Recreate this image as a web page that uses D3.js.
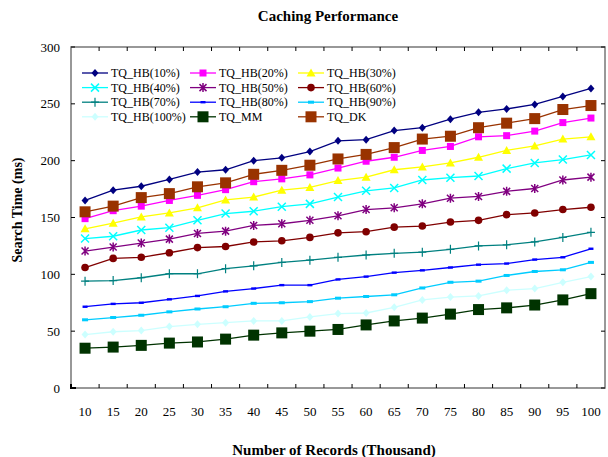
<!DOCTYPE html>
<html>
<head>
<meta charset="utf-8" />
<title>Caching Performance</title>
<script src="https://cdn.jsdelivr.net/npm/d3@7"></script>
<style>
html, body { margin: 0; background: #fff; }
svg { display: block; }
text { font-family: "Liberation Serif", "Times New Roman", serif; fill: #000; }
</style>
</head>
<body>
<div id="chart"></div>
<script>
// categories (thousand records)
var records = [10, 15, 20, 25, 30, 35, 40, 45, 50, 55, 60, 65, 70, 75, 80, 85, 90, 95, 100];
var yTicks = [0, 50, 100, 150, 200, 250, 300];

// search time (ms) per series
var hb10  = [165, 174, 177.5, 183.5, 190, 192, 200, 202.5, 208, 217.5, 218.5, 226.5, 229, 236.5, 242.5, 245.5, 249.5, 256.5, 263.5];
var hb20  = [149, 156, 160, 165, 169.5, 174.5, 181.5, 184, 187.5, 193.5, 199.5, 203, 209, 212.5, 221, 222, 226, 233.5, 237.5];
var hb30  = [140, 145, 150.5, 154, 158.5, 165.5, 168, 174, 176.5, 182.5, 185.5, 192, 194.5, 198, 203, 209, 213, 219, 221];
var hb40  = [131.5, 133.5, 139, 141, 147.5, 153.5, 155.5, 159.5, 162, 168, 173.5, 176, 183, 185, 186.5, 193, 198, 201, 205];
var hb50  = [120.5, 124, 127.5, 131, 136, 138, 143, 144.5, 147.5, 151.5, 157, 158.5, 162, 167, 168.5, 173, 175.5, 183, 185.5];
var hb60  = [106, 114, 115, 119, 123.5, 124.5, 128.5, 129.5, 132.5, 136.5, 137.5, 141.5, 142.5, 146, 147.5, 152.5, 154, 157, 159];
var hb70  = [94, 94.5, 97, 100.5, 100.5, 105, 107.5, 110.5, 112.5, 115, 117, 118.5, 119.5, 122, 125, 126, 128.5, 132.5, 137];
var hb80  = [71.5, 74, 75, 78, 81, 85, 87.5, 90.5, 90.5, 95.5, 98, 101.5, 103.5, 106, 108.5, 109.5, 113, 115, 122.5];
var hb90  = [60, 62, 64, 67, 69.5, 71.5, 74.5, 75, 76, 79, 80.5, 82, 88, 93, 94, 99, 102.5, 104, 110.5];
var hb100 = [47, 49.5, 50.5, 54, 56, 57.5, 59, 59, 62.5, 65.5, 66, 71, 77.5, 80, 81, 86, 87.5, 93, 98];
var mm    = [35, 36, 37.5, 39.5, 40.5, 43, 46.5, 48.5, 50, 51.5, 55.5, 59, 61.5, 65, 69, 70.5, 73, 77.5, 83];
var dk    = [155, 160, 167.5, 171, 177, 180.5, 188, 191.5, 196, 201.5, 205.5, 211.5, 219, 221.5, 229, 233, 237, 245, 248.5];

var seriesNames = ["TQ_HB(10%)", "TQ_HB(20%)", "TQ_HB(30%)", "TQ_HB(40%)", "TQ_HB(50%)", "TQ_HB(60%)",
                   "TQ_HB(70%)", "TQ_HB(80%)", "TQ_HB(90%)", "TQ_HB(100%)", "TQ_MM", "TQ_DK"];
var seriesValues = [hb10, hb20, hb30, hb40, hb50, hb60, hb70, hb80, hb90, hb100, mm, dk];
var seriesColors = ["#000080", "#ff00ff", "#ffff00", "#00ffff", "#800080", "#800000",
                    "#008080", "#0000ff", "#00ccff", "#ccffff", "#003300", "#993300"];
var seriesMarks = ["diamond", "square", "triangle", "cross", "star", "circle",
                   "plus", "dash", "dash2", "diamond", "bigsquare", "bigsquare"];

(function() {
var width = 608, height = 457;
var pLeft = 71, pRight = 605, pTop = 47, pBottom = 388;

var svg = d3.select("#chart").append("svg")
  .attr("width", width)
  .attr("height", height);

var x = d3.scaleBand().domain(records).range([pLeft, pRight]);
var y = d3.scaleLinear().domain([0, 300]).range([pBottom, pTop]);

function cx(i) { return x(records[i]) + x.bandwidth() / 2; }

// frame with inward ticks
var frame = svg.append("g").attr("stroke", "#777").attr("stroke-width", 1.5).attr("fill", "none");
frame.append("rect").attr("x", pLeft).attr("y", pTop).attr("width", pRight - pLeft).attr("height", pBottom - pTop);
var bounds = records.slice(1).map(function(d) { return x(d); });
bounds.forEach(function(b) {
  frame.append("line").attr("x1", b).attr("x2", b).attr("y1", pBottom).attr("y2", pBottom - 4).attr("stroke-width", 1).attr("stroke", "#000");
  frame.append("line").attr("x1", b).attr("x2", b).attr("y1", pTop).attr("y2", pTop + 4).attr("stroke-width", 1).attr("stroke", "#000");
});
yTicks.forEach(function(t) {
  frame.append("line").attr("x1", pLeft).attr("x2", pLeft + 4).attr("y1", y(t)).attr("y2", y(t)).attr("stroke-width", 1).attr("stroke", "#000");
  frame.append("line").attr("x1", pRight).attr("x2", pRight - 4).attr("y1", y(t)).attr("y2", y(t)).attr("stroke-width", 1).attr("stroke", "#000");
});
// dark corner
svg.append("path").attr("d", "M" + pLeft + "," + (pBottom - 4) + "V" + pBottom + "H" + (pLeft + 5))
  .attr("stroke", "#000").attr("stroke-width", 2).attr("fill", "none");

// tick labels
svg.append("g").selectAll("text").data(yTicks).enter().append("text")
  .attr("x", 60).attr("y", function(d) { return y(d); })
  .attr("dy", "0.35em").attr("text-anchor", "end").attr("font-size", 13)
  .text(function(d) { return d; });

svg.append("g").selectAll("text").data(records).enter().append("text")
  .attr("x", function(d, i) { return cx(i); }).attr("y", 416)
  .attr("text-anchor", "middle").attr("font-size", 13)
  .text(function(d) { return d; });

// titles
svg.append("text").attr("x", 328).attr("y", 21).attr("text-anchor", "middle")
  .attr("font-size", 15).attr("font-weight", "bold").text("Caching Performance");
svg.append("text").attr("x", 334).attr("y", 455).attr("text-anchor", "middle")
  .attr("font-size", 15).attr("font-weight", "bold").text("Number of Records (Thousand)");
svg.append("text").attr("transform", "translate(22,210) rotate(-90)").attr("text-anchor", "middle")
  .attr("font-size", 14).attr("font-weight", "bold").text("Search Time (ms)");

// marker drawing
function drawMark(g, kind, color, px, py) {
  var tr = "translate(" + px + "," + py + ")";
  if (kind == "diamond") {
    g.append("path").attr("d", "M0,-4L3.5,0L0,4L-3.5,0Z").attr("transform", tr).attr("fill", color);
  } else if (kind == "square") {
    g.append("rect").attr("x", px - 3.5).attr("y", py - 3.5).attr("width", 7).attr("height", 7).attr("fill", color);
  } else if (kind == "bigsquare") {
    g.append("rect").attr("x", px - 5.5).attr("y", py - 5.5).attr("width", 11).attr("height", 11).attr("fill", color);
  } else if (kind == "triangle") {
    g.append("path").attr("d", "M0,-4.5L4.5,3.5L-4.5,3.5Z").attr("transform", tr).attr("fill", color);
  } else if (kind == "cross") {
    g.append("path").attr("d", "M-4,-4L4,4M-4,4L4,-4").attr("transform", tr).attr("stroke", color).attr("stroke-width", 1.5);
  } else if (kind == "star") {
    g.append("path").attr("d", "M-3.5,-3.5L3.5,3.5M-3.5,3.5L3.5,-3.5M0,-4.5L0,4.5").attr("transform", tr).attr("stroke", color).attr("stroke-width", 1.5);
  } else if (kind == "circle") {
    g.append("circle").attr("cx", px).attr("cy", py).attr("r", 3.8).attr("fill", color);
  } else if (kind == "plus") {
    g.append("path").attr("d", "M-4,0L4,0M0,-4.5L0,4.5").attr("transform", tr).attr("stroke", color).attr("stroke-width", 1.2);
  } else if (kind == "dash") {
    g.append("rect").attr("x", px - 2.5).attr("y", py - 1.2).attr("width", 5).attr("height", 2.4).attr("fill", color);
  } else if (kind == "dash2") {
    g.append("rect").attr("x", px - 3).attr("y", py - 1.5).attr("width", 6).attr("height", 3).attr("fill", color);
  }
}

var line = d3.line()
  .x(function(d, i) { return cx(i); })
  .y(function(d) { return y(d); });

var plot = svg.append("g");
seriesValues.forEach(function(vals, s) {
  var g = plot.append("g");
  g.append("path").datum(vals).attr("d", line)
    .attr("fill", "none").attr("stroke", seriesColors[s]).attr("stroke-width", 1.3);
  vals.forEach(function(v, i) { drawMark(g, seriesMarks[s], seriesColors[s], cx(i), y(v)); });
});

// legend: 3 columns x 4 rows
var legend = svg.append("g");
seriesNames.forEach(function(name, s) {
  var col = s % 3, row = Math.floor(s / 3);
  var lx = 82 + col * 108, ly = 73 + row * 14.6;
  legend.append("line").attr("x1", lx).attr("x2", lx + 26).attr("y1", ly).attr("y2", ly)
    .attr("stroke", seriesColors[s]).attr("stroke-width", 1.3);
  drawMark(legend, seriesMarks[s], seriesColors[s], lx + 13, ly);
  legend.append("text").attr("x", lx + 29).attr("y", ly).attr("dy", "0.35em")
    .attr("font-size", 12).text(name);
});
})();
</script>
</body>
</html>
